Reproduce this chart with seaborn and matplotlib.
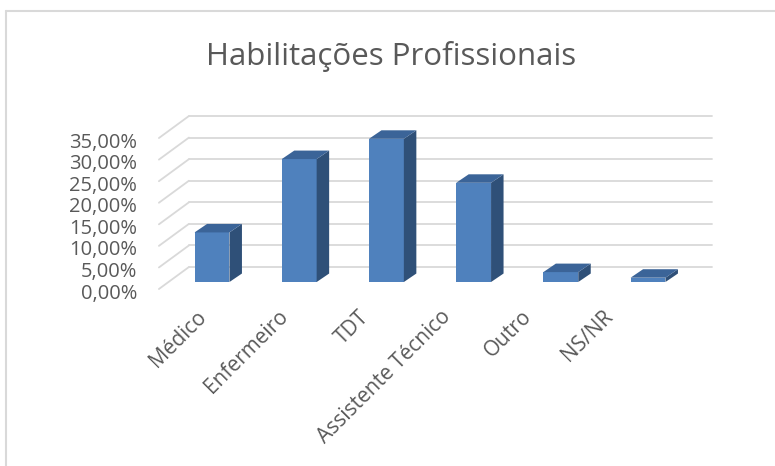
import matplotlib
matplotlib.use("Agg")
import matplotlib.pyplot as plt
import matplotlib.transforms as mtransforms
from matplotlib.patches import Polygon
from matplotlib.lines import Line2D
import seaborn as sns
import pandas as pd

categories = ["Médico", "Enfermeiro", "TDT", "Assistente Técnico", "Outro", "NS/NR"]
values = [11.5, 28.5, 33.2, 23.0, 2.3, 1.0]
yticks = [0, 5, 10, 15, 20, 25, 30, 35]
ytick_labels = [f"{v:.2f}%".replace(".", ",") for v in yticks]
title = "Habilitações Profissionais"

sns.set_theme(style="white")
plt.rcParams["font.family"] = ["Open Sans", "DejaVu Sans"]

TXT = "#595959"
GRID = "#D9D9D9"
FRONT = "#4F81BD"
SIDE = "#2F5078"
TOP = "#3B6498"

fig = plt.figure(figsize=(7.75, 4.66), dpi=100)
fig.patch.set_facecolor("white")
ax = fig.add_axes([0.2173, 0.3948, 0.6751, 0.3240])

df = pd.DataFrame({"cat": categories, "val": values})
sns.barplot(data=df, x="cat", y="val", color=FRONT, width=0.40, saturation=1,
            ax=ax, zorder=3, edgecolor="none")
ax.set_xlim(-0.5, 5.5)
ax.set_ylim(0, 35)
ax.set_xlabel("")
ax.set_ylabel("")
for s in ax.spines.values():
    s.set_visible(False)
ax.patch.set_alpha(0)

# 3D faces derived from the bars
px_per_x = 87.2
px_per_y = 151 / 35
dx = 12.5 / px_per_x
dy = 8.5 / px_per_y
for p in ax.patches:
    x0 = p.get_x()
    x1 = x0 + p.get_width()
    h = p.get_height()
    side = Polygon([(x1, 0), (x1 + dx, dy), (x1 + dx, h + dy), (x1, h)],
                   closed=True, facecolor=SIDE, edgecolor="none", zorder=3, clip_on=False)
    top = Polygon([(x0, h), (x1, h), (x1 + dx, h + dy), (x0 + dx, h + dy)],
                  closed=True, facecolor=TOP, edgecolor="none", zorder=3, clip_on=False)
    ax.add_patch(side)
    ax.add_patch(top)

# back wall gridlines and left wall diagonals
back = mtransforms.offset_copy(ax.transData, fig=fig, x=20.5, y=15, units="dots")
front = mtransforms.offset_copy(ax.transData, fig=fig, x=-9.5, y=-7, units="dots")
for v in yticks:
    ax.add_line(Line2D([-0.5, 5.5], [v, v], transform=back, color=GRID, lw=1.3,
                       zorder=1, clip_on=False))
    fx, fy = front.transform((-0.5, v))
    bx, by = back.transform((-0.5, v))
    fig.add_artist(Line2D([fx, bx], [fy, by], transform=None, color=GRID, lw=1.3, zorder=1))

# y tick labels
ax.set_yticks(yticks)
ax.set_yticklabels(ytick_labels)
ax.tick_params(axis="y", left=True, labelleft=True, length=0, pad=22.5,
               labelsize=14.5, labelcolor=TXT)
shift = mtransforms.ScaledTranslation(0, -9 / 100, fig.dpi_scale_trans)
for lab in ax.get_yticklabels():
    lab.set_transform(lab.get_transform() + shift)

# x tick labels on a twin axis (compressed label spacing as in reference)
ax.set_xticks([])
ax2 = ax.twiny()
ax2.set_xlim(-0.525, 5.92)
ax2.xaxis.set_ticks_position("bottom")
ax2.xaxis.set_label_position("bottom")
ax2.set_xticks(range(len(categories)))
ax2.set_xticklabels(categories, rotation=45, ha="right", va="top",
                    rotation_mode="default")
ax2.tick_params(axis="x", length=0, pad=17.5, labelsize=15, labelcolor=TXT)
for s in ax2.spines.values():
    s.set_visible(False)
ax2.patch.set_alpha(0)

fig.text(391.5 / 775, 1 - 57 / 466, title, ha="center", va="center",
         fontsize=22.5, color=TXT)

# chart area border (top and left)
fig.add_artist(Line2D([6 / 775, 1], [1 - 11 / 466, 1 - 11 / 466],
                      transform=fig.transFigure, color=GRID, lw=1.5))
fig.add_artist(Line2D([6 / 775, 6 / 775], [0, 1 - 11 / 466],
                      transform=fig.transFigure, color=GRID, lw=1.5))

fig.savefig("out.png", dpi=100)
